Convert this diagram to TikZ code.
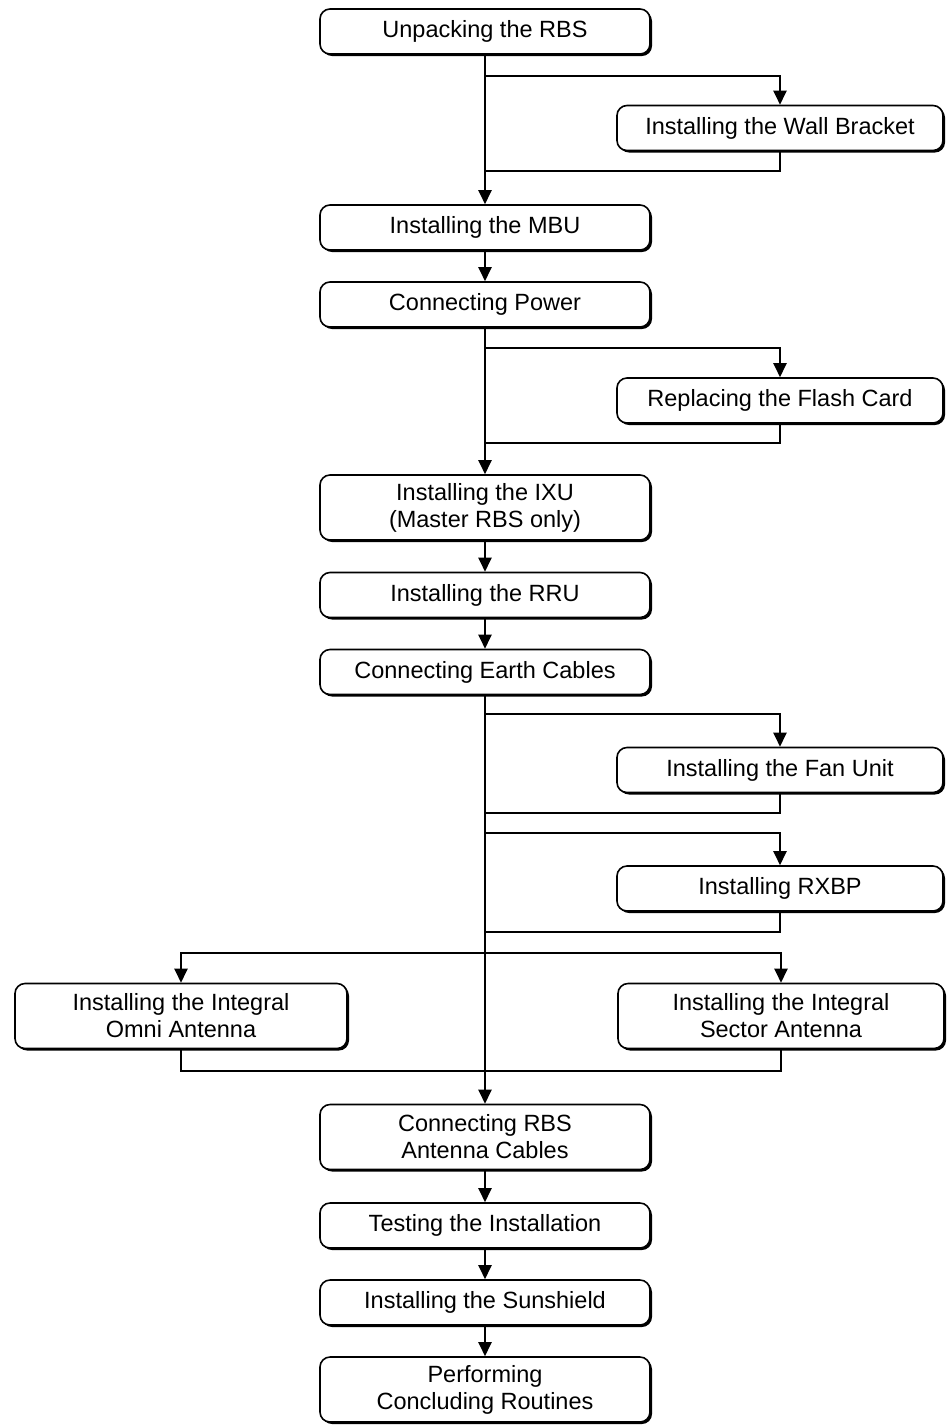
\documentclass[tikz,border=0pt]{standalone}
\usepackage{fontspec}
\setmainfont{Liberation Sans}
\usetikzlibrary{arrows.meta,shadows}

\tikzset{
  stepbox/.style={draw,fill=white,rounded corners=5pt,line width=0.8pt,
    minimum width=165pt,minimum height=22.5pt,align=center,inner sep=2pt,
    font=\fontsize{11.75}{13.5}\selectfont,
    drop shadow={shadow xshift=1pt,shadow yshift=-1pt,fill=black,opacity=1}},
  sidebox/.style={stepbox,minimum width=163pt},
  tallbox/.style={minimum height=32.5pt},
  flow/.style={line width=1.15pt,-{Triangle[length=7pt,width=6.5pt]}},
  link/.style={line width=1.15pt}
}

\begin{document}
\begin{tikzpicture}[x=0.5pt,y=-0.5pt]
  \useasboundingbox (0,0) rectangle (947,1426);

  % main column
  \node[stepbox] (unpack) at (485,31.5) {Unpacking the RBS};
  \node[stepbox] (mbu) at (485,227.5) {Installing the MBU};
  \node[stepbox] (power) at (485,304.5) {Connecting Power};
  \node[stepbox,tallbox] (ixu) at (485,507.5) {Installing the IXU\\(Master RBS only)};
  \node[stepbox] (rru) at (485,595) {Installing the RRU};
  \node[stepbox] (earth) at (485,672) {Connecting Earth Cables};
  \node[stepbox,tallbox] (cables) at (485,1137) {Connecting RBS\\Antenna Cables};
  \node[stepbox] (test) at (485,1225.5) {Testing the Installation};
  \node[stepbox] (sun) at (485,1302.5) {Installing the Sunshield};
  \node[stepbox,tallbox] (perform) at (485,1389.5) {Performing\\Concluding Routines};

  % optional steps
  \node[sidebox] (wall) at (780,128) {Installing the Wall Bracket};
  \node[sidebox] (flash) at (780,400.5) {Replacing the Flash Card};
  \node[sidebox] (fan) at (780,770) {Installing the Fan Unit};
  \node[sidebox] (rxbp) at (780,888.5) {Installing RXBP};
  \node[sidebox,tallbox,minimum width=166pt] (omni) at (181,1016) {Installing the Integral\\Omni Antenna};
  \node[sidebox,tallbox] (sector) at (781,1016) {Installing the Integral\\Sector Antenna};

  % branch and return points on the trunk
  \coordinate (b1) at (485,76);
  \coordinate (r1) at (485,171);
  \coordinate (b2) at (485,348);
  \coordinate (r2) at (485,443);
  \coordinate (b3) at (485,714);
  \coordinate (r3) at (485,813);
  \coordinate (b4) at (485,833);
  \coordinate (r4) at (485,932);
  \coordinate (b5) at (485,953);
  \coordinate (r5) at (485,1071);

  \foreach \from/\to in {unpack/mbu,mbu/power,power/ixu,ixu/rru,rru/earth,
      earth/cables,cables/test,test/sun,sun/perform}
    \draw[flow] (\from.south) -- (\to.north);

  \foreach \br/\bx/\rt in {b1/wall/r1,b2/flash/r2,b3/fan/r3,b4/rxbp/r4}
  {
    \draw[flow] (\br) -| (\bx.north);
    \draw[link] (\bx.south) |- (\rt);
  }

  \draw[flow] (b5) -| (omni.north);
  \draw[flow] (b5) -| (sector.north);
  \draw[link] (omni.south) -- (omni.south |- r5) -- (sector.south |- r5) -- (sector.south);
\end{tikzpicture}
\end{document}
